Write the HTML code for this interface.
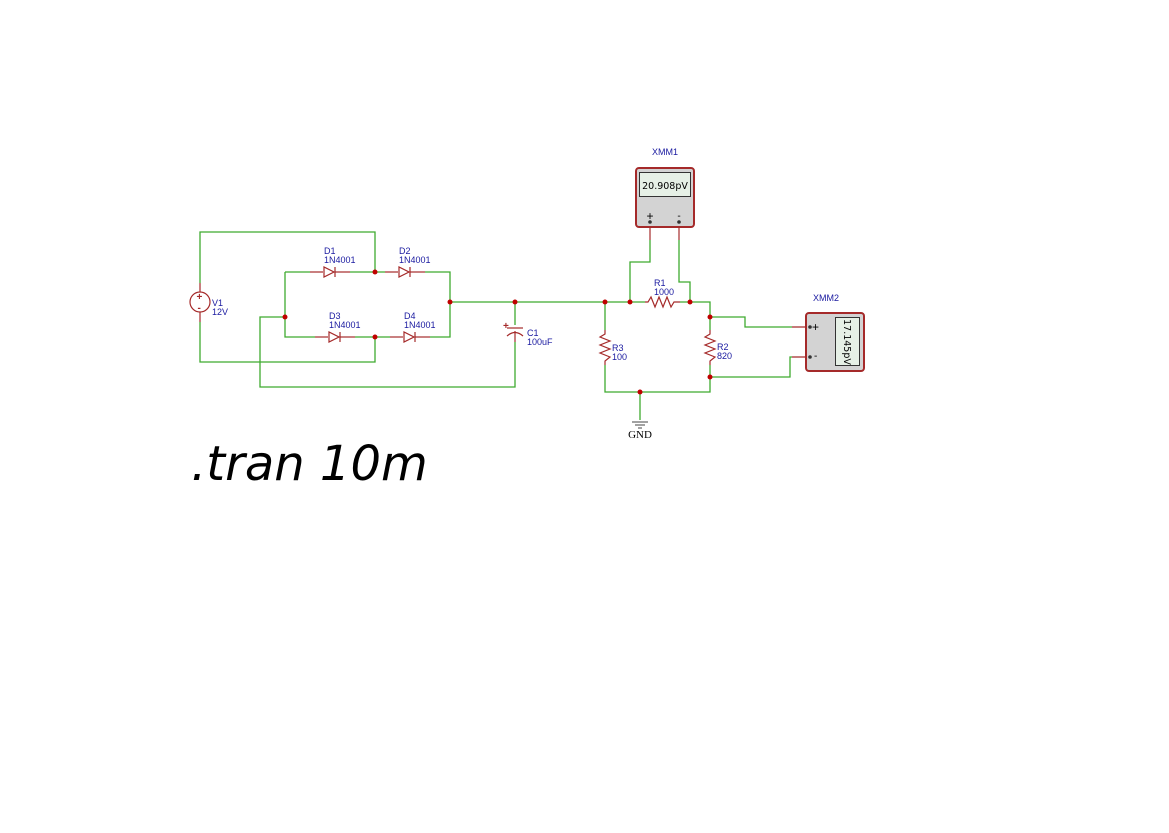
<!DOCTYPE html>
<html><head><meta charset="utf-8"><style>
body{margin:0;background:#fff}
svg text{font-family:"Liberation Sans",sans-serif}
</style></head><body>
<svg width="1169" height="828" viewBox="0 0 1169 828" xmlns="http://www.w3.org/2000/svg">
<defs><g id="d" fill="none" stroke="#a52a2a" stroke-width="1.2"><line x1="0" y1="0" x2="13" y2="0"/><polygon points="14,-5 14,5 24,0"/><line x1="25" y1="-5" x2="25" y2="5"/><line x1="25" y1="0" x2="40" y2="0"/></g></defs>
<g fill="none" stroke="#3faa2f" stroke-width="1.3">
<polyline points="200,283 200,232 375,232 375,272"/>
<polyline points="200,322 200,362 375,362 375,337"/>
<polyline points="285,272 310,272"/><polyline points="350,272 385,272"/><polyline points="425,272 450,272 450,337 430,337"/>
<polyline points="285,272 285,337 315,337"/><polyline points="355,337 390,337"/>
<polyline points="285,317 260,317 260,387 515,387 515,342"/>
<polyline points="450,302 605,302 605,330"/><polyline points="515,302 515,325"/>
<polyline points="605,365 605,392 710,392 710,365"/>
<polyline points="605,302 645,302"/><polyline points="680,302 710,302 710,330"/>
<polyline points="630,302 630,262 650,262 650,240"/>
<polyline points="690,302 690,282 679,282 679,240"/>
<polyline points="710,317 745,317 745,327 792,327"/>
<polyline points="710,377 790,377 790,357 792,357"/>
<polyline points="640,392 640,420"/>
</g>
<g fill="none" stroke="#a52a2a" stroke-width="1.2">
<line x1="200" y1="283" x2="200" y2="292"/><line x1="200" y1="312" x2="200" y2="322"/>
<circle cx="200" cy="302" r="10"/>
<line x1="507" y1="328" x2="523" y2="328"/><path d="M507,336 Q515,329 523,336"/><line x1="515" y1="331" x2="515" y2="342"/>
<polyline points="645,302 648,302 651,297 655,307 659,297 663,307 667,297 671,307 674,302 680,302"/>
<polyline points="605,330 605,334 600,337 610,341 600,345 610,349 600,353 610,357 605,361 605,365"/>
<polyline points="710,330 710,334 705,337 715,341 705,345 715,349 705,353 715,357 710,361 710,365"/>
<line x1="650" y1="221" x2="650" y2="240"/><line x1="679" y1="221" x2="679" y2="240"/>
<line x1="792" y1="327" x2="810" y2="327"/><line x1="792" y1="357" x2="810" y2="357"/>
</g>
<use href="#d" x="310" y="272"/><use href="#d" x="385" y="272"/>
<use href="#d" x="315" y="337"/><use href="#d" x="390" y="337"/>
<g stroke="#444" stroke-width="1"><line x1="632" y1="422" x2="648" y2="422"/><line x1="635" y1="425" x2="645" y2="425"/><line x1="638" y1="428" x2="642" y2="428"/></g>
<g fill="#a52a2a" font-size="10" font-weight="bold"><text x="196.5" y="300">+</text><text x="197.5" y="311">-</text><text x="503" y="329">+</text></g>
<rect x="636" y="168" width="58" height="59" rx="3" fill="#d3d3d3" stroke="#a52a2a" stroke-width="2"/>
<rect x="639.5" y="172.5" width="51" height="24" fill="#e6f0e6" stroke="#333" stroke-width="1"/>
<text x="665" y="189" text-anchor="middle" font-size="9.5" fill="#000" style="font-family:'DejaVu Sans',sans-serif">20.908pV</text>
<text x="650" y="220" text-anchor="middle" font-size="12">+</text><text x="679" y="219" text-anchor="middle" font-size="10">-</text>
<circle cx="650" cy="222" r="1.8" fill="#333"/><circle cx="679" cy="222" r="1.8" fill="#333"/>
<rect x="806" y="313" width="58" height="58" rx="3" fill="#d3d3d3" stroke="#a52a2a" stroke-width="2"/>
<rect x="835.5" y="317.5" width="24" height="48" fill="#e6f0e6" stroke="#333" stroke-width="1"/>
<text transform="translate(844,342) rotate(90)" text-anchor="middle" font-size="9.5" fill="#000" style="font-family:'DejaVu Sans',sans-serif">17.145pV</text>
<text x="812" y="331" font-size="12">+</text><text x="814" y="359" font-size="10">-</text>
<circle cx="810" cy="327" r="1.8" fill="#333"/><circle cx="810" cy="357" r="1.8" fill="#333"/>
<g fill="#c00000">
<circle cx="375" cy="272" r="2.5"/><circle cx="375" cy="337" r="2.5"/><circle cx="285" cy="317" r="2.5"/><circle cx="450" cy="302" r="2.5"/>
<circle cx="515" cy="302" r="2.5"/><circle cx="605" cy="302" r="2.5"/><circle cx="630" cy="302" r="2.5"/><circle cx="690" cy="302" r="2.5"/>
<circle cx="710" cy="317" r="2.5"/><circle cx="710" cy="377" r="2.5"/><circle cx="640" cy="392" r="2.5"/>
</g>
<g fill="#1a1aa0" font-size="9">
<text x="212" y="306">V1</text><text x="212" y="315">12V</text>
<text x="324" y="254">D1</text><text x="324" y="263">1N4001</text>
<text x="399" y="254">D2</text><text x="399" y="263">1N4001</text>
<text x="329" y="319">D3</text><text x="329" y="328">1N4001</text>
<text x="404" y="319">D4</text><text x="404" y="328">1N4001</text>
<text x="527" y="336">C1</text><text x="527" y="345">100uF</text>
<text x="654" y="286">R1</text><text x="654" y="295">1000</text>
<text x="612" y="351">R3</text><text x="612" y="360">100</text>
<text x="717" y="350">R2</text><text x="717" y="359">820</text>
<text x="652" y="155">XMM1</text><text x="813" y="301">XMM2</text>
</g>
<text x="640" y="438" text-anchor="middle" font-size="11" fill="#000" style="font-family:'Liberation Serif',serif">GND</text>
<text x="191" y="480" font-size="48" font-style="italic" fill="#000" style="font-family:'DejaVu Sans',sans-serif">.tran 10m</text>
</svg>
</body></html>
